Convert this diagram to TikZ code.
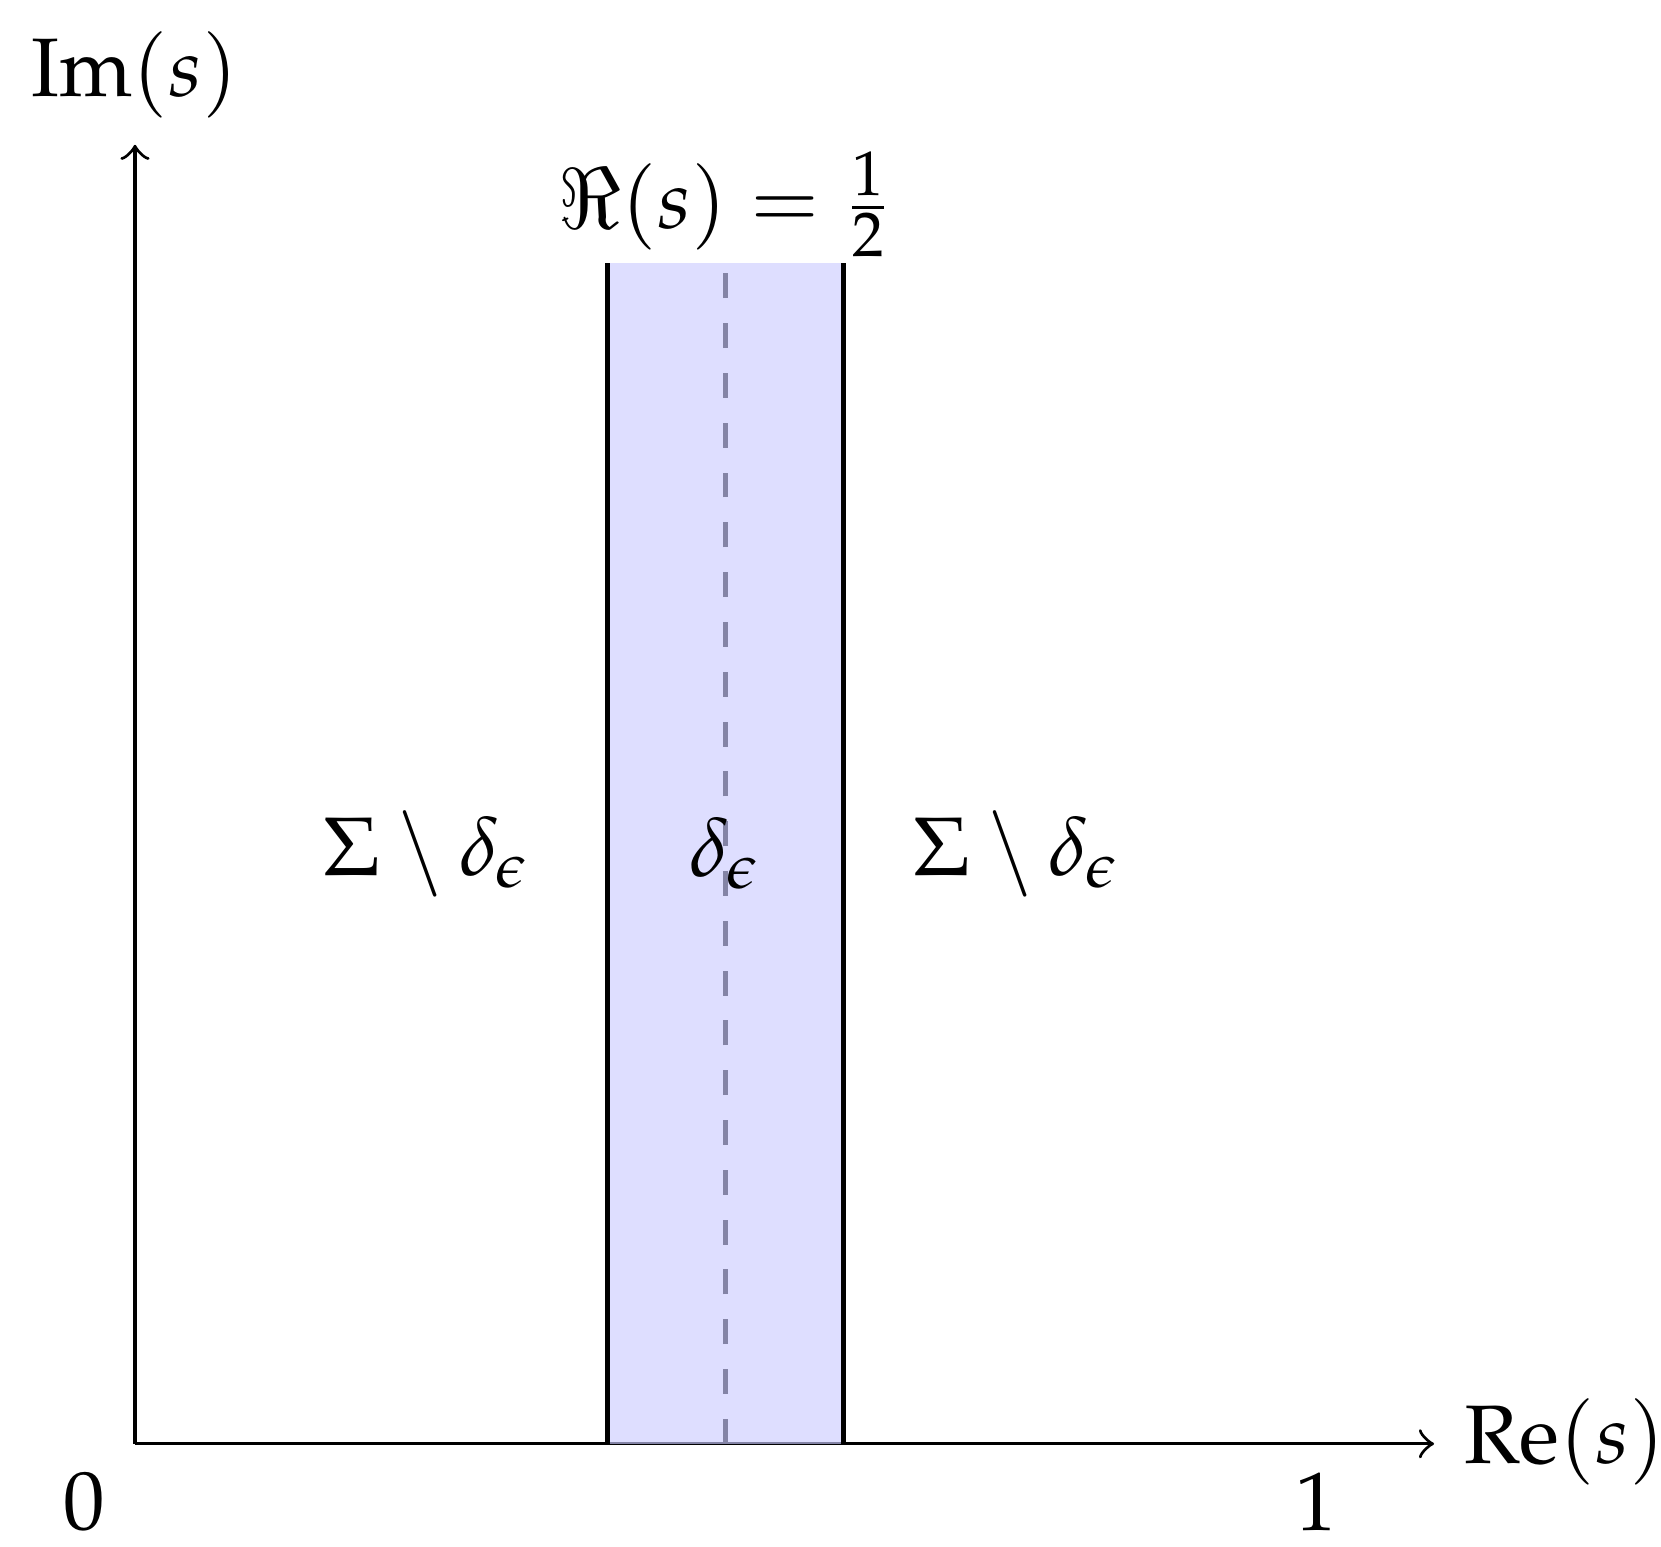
\documentclass[tikz,border=0pt]{standalone}
\usepackage[T1]{fontenc}
\usepackage{mathpazo}
\begin{document}
\begin{tikzpicture}[
  axisline/.style={->, line width=0.4pt},
  bandedge/.style={line width=0.55pt},
  midline/.style={dashed, line width=0.55pt},
  bandfill/.style={fill=blue!20, fill opacity=0.65},
  lbl/.style={inner sep=0pt}
]
\useasboundingbox (-0.5716,-0.436) rectangle (6.461,6.113);
\coordinate (O) at (0,0);
\coordinate (xend) at (5.5,0);
\coordinate (yend) at (0,5.5);
\coordinate (lb) at (2,0);
\coordinate (lt) at (2,5);
\coordinate (rb) at (3,0);
\coordinate (rt) at (3,5);
\coordinate (mb) at (2.5,0);
\coordinate (mt) at (2.5,5);
% axes
\draw[axisline] (O) -- (xend);
\draw[axisline] (O) -- (yend);
% critical line and strip
\draw[midline] (mb) -- (mt);
\fill[bandfill] (lb) rectangle (rt);
\draw[bandedge] (lb) -- (lt);
\draw[bandedge] (rb) -- (rt);
% labels
\node[lbl, anchor=base] (im) at (0,5.704) {Im$(s)$};
\node[lbl, anchor=base west] (re) at (5.622,-0.082) {Re$(s)$};
\node[lbl] (zero) at (-0.216,-0.245) {$0$};
\node[lbl] (one) at (5,-0.245) {$1$};
\node[lbl, anchor=base] (crit) at (2.5,5.147) {$\Re(s) = \frac{1}{2}$};
\node[lbl] (left) at (1.239,2.5) {$\Sigma \setminus \delta_\epsilon$};
\node[lbl] (mid) at (2.5,2.5) {$\delta_\epsilon$};
\node[lbl] (right) at (3.736,2.5) {$\Sigma \setminus \delta_\epsilon$};
\end{tikzpicture}
\end{document}
